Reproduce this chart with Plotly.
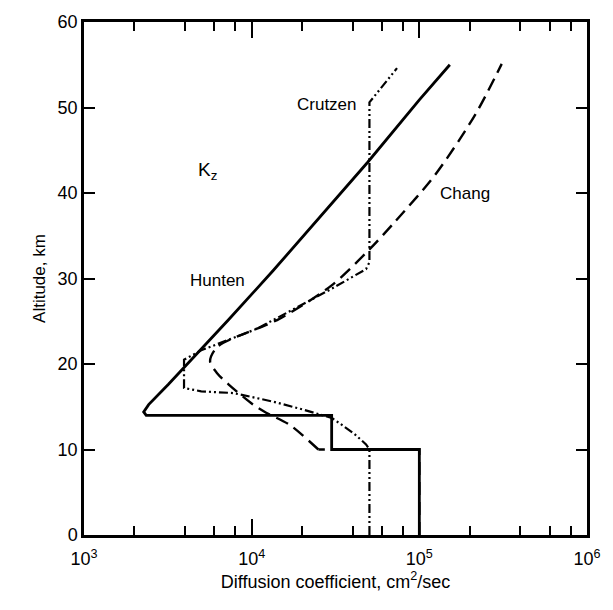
import plotly.graph_objects as go

# Hunten profile (solid)
hunten_k = [1e5, 1e5, 3.0e4, 3.0e4, 2.35e3, 2.27e3, 2.43e3, 3.18e3, 7.3e3, 1.34e4, 4.92e4, 7.08e4, 1.0e5, 1.52e5]
hunten_z = [0, 10, 10, 14, 14, 14.4, 15.25, 17.6, 25.2, 30.9, 43.6, 47.3, 50.9, 55.0]

# Chang profile (dashed): lower step part and smooth upper curve
chang_step_k = [1e5, 1e5, 2.5e4]
chang_step_z = [0, 10, 10]
chang_k = [2.5e4, 1.68e4, 1.22e4, 1.02e4, 7.3e3, 6.24e3, 5.65e3, 6.24e3,
           1.47e4, 3.0e4, 5.04e4, 7.05e4, 1.24e5, 2.16e5, 3.1e5]
chang_z = [10, 12.9, 14.3, 15.25, 17.6, 18.9, 20.3, 22.0,
           25.3, 29.2, 33.4, 36.5, 42.1, 49.2, 55.1]

# Crutzen profile (dash-dot-dot)
crutzen_k = [5.04e4, 5.04e4, 4.81e4, 4.11e4, 3.44e4, 3.0e4, 2.0e4, 1.34e4, 7.8e3, 5.0e3, 3.95e3, 3.95e3,
             5.0e3, 6.8e3, 1.07e4, 3.0e4, 4.81e4, 5.04e4, 5.04e4, 7.36e4]
crutzen_z = [0, 10, 10.6, 11.8, 12.9, 13.7, 14.7, 15.6, 16.6, 16.8, 17.2, 20.5,
             21.6, 22.6, 24.1, 28.8, 31.1, 31.9, 50.6, 54.6]

x_ticks = [1e3, 1e4, 1e5, 1e6]
x_ticktext = ["10<sup>3</sup>", "10<sup>4</sup>", "10<sup>5</sup>", "10<sup>6</sup>"]
x_minor = [m * 10 ** e for e in (3, 4, 5) for m in (2, 4, 6, 8)]
y_ticks = [0, 10, 20, 30, 40, 50, 60]

labels = ["Crutzen", "Chang", "Hunten", "K<sub>z</sub>"]
label_x = [4.449, 5.272, 3.795, 3.737]
label_y = [50.3, 40.0, 29.8, 42.6]
label_size = [17, 17, 17, 19]

DASH = "13px,7px"
DDOT = "9px,3px,2px,3px,2px,3px"

fig = go.Figure()
fig.add_trace(go.Scatter(x=hunten_k, y=hunten_z, mode="lines",
                         line=dict(color="black", width=2.8), name="Hunten"))
fig.add_trace(go.Scatter(x=chang_step_k, y=chang_step_z, mode="lines",
                         line=dict(color="black", width=2.4, dash=DASH), name="Chang"))
fig.add_trace(go.Scatter(x=chang_k, y=chang_z, mode="lines",
                         line=dict(color="black", width=2.4, dash=DASH, shape="spline", smoothing=0.8),
                         name="Chang"))
fig.add_trace(go.Scatter(x=crutzen_k, y=crutzen_z, mode="lines",
                         line=dict(color="black", width=2.2, dash=DDOT), name="Crutzen"))

for t, lx, ly, s in zip(labels, label_x, label_y, label_size):
    fig.add_annotation(x=lx, y=ly, xref="x", yref="y", text=t, showarrow=False,
                       font=dict(size=s, color="black", family="Liberation Sans"))

fig.update_layout(
    width=613, height=610,
    margin=dict(l=84, r=16, t=17, b=75),
    paper_bgcolor="white", plot_bgcolor="white",
    showlegend=False,
    font=dict(family="Liberation Sans", size=18, color="black"),
    xaxis=dict(type="log", range=[3, 6], tickvals=x_ticks, ticktext=x_ticktext,
               ticks="inside", ticklen=16, tickwidth=2, tickcolor="black",
               minor=dict(tickvals=x_minor, ticks="inside", ticklen=9, tickwidth=1.5, tickcolor="black"),
               showline=True, linecolor="black", linewidth=2.5, mirror="ticks",
               showgrid=False, zeroline=False, ticklabelstandoff=6,
               tickfont=dict(family="Liberation Sans", size=18, color="black"),
               title=dict(text="Diffusion coefficient, cm<sup>2</sup>/sec", standoff=6,
                          font=dict(family="Liberation Sans", size=18, color="black"))),
    yaxis=dict(range=[0, 60], tickvals=y_ticks,
               ticks="inside", ticklen=11, tickwidth=2, tickcolor="black",
               showline=True, linecolor="black", linewidth=2.5, mirror="ticks",
               showgrid=False, zeroline=False,
               tickfont=dict(family="Liberation Sans", size=18, color="black"),
               title=dict(text="Altitude, km", standoff=8,
                          font=dict(family="Liberation Sans", size=17, color="black"))),
)

fig.write_html("out.html")
